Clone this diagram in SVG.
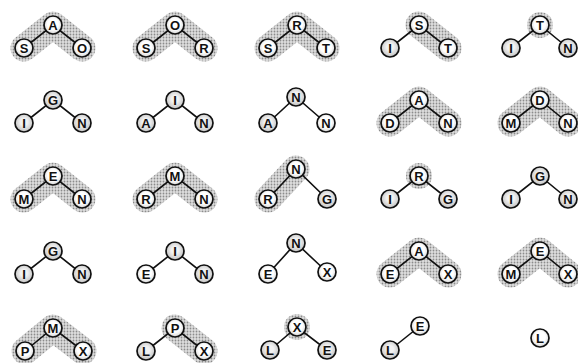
<svg xmlns="http://www.w3.org/2000/svg" width="578" height="363" viewBox="0 0 578 363">
<defs>
<pattern id="dots" width="3" height="3" patternUnits="userSpaceOnUse">
<rect width="3" height="3" fill="#dedede"/>
<circle cx="1.5" cy="1.5" r="0.9" fill="#8c8c8c"/>
</pattern>
<radialGradient id="gw" cx="50%" cy="45%" r="55%">
<stop offset="0.55" stop-color="#ffffff"/>
<stop offset="1" stop-color="#d4d4d4"/>
</radialGradient>
<radialGradient id="gg" cx="50%" cy="45%" r="55%">
<stop offset="0.35" stop-color="#f2f2f2"/>
<stop offset="1" stop-color="#c2c2c2"/>
</radialGradient>
</defs>
<style>
.band{fill:none;stroke:url(#dots);stroke-width:27;stroke-linecap:round;stroke-linejoin:round}
.halo{fill:url(#dots)}
.edge{stroke:#111;stroke-width:1.6;fill:none}
.node circle{stroke:#111;stroke-width:1.7}
.w circle{fill:url(#gw)}
.g circle{fill:url(#gg)}
.node text{font-family:"Liberation Sans",Arial,sans-serif;font-weight:bold;font-size:13px;text-anchor:middle;fill:#111}
</style>
<rect width="578" height="363" fill="#ffffff"/>
<g id="highlights">
<polyline class="band" points="24,48 53,25 82,48"/>
<polyline class="band" points="146,48 175,25 204,48"/>
<polyline class="band" points="268,48 297,25 326,48"/>
<polyline class="band" points="419,25 448,48"/>
<circle class="halo" cx="540" cy="25" r="13"/>
<polyline class="band" points="390,123 419,100 448,123"/>
<polyline class="band" points="511,123 540,100 568,123"/>
<polyline class="band" points="24,199 53,176 82,199"/>
<polyline class="band" points="146,199 175,176 204,199"/>
<polyline class="band" points="268,199 296,169"/>
<circle class="halo" cx="419" cy="176" r="13"/>
<polyline class="band" points="390,274 419,251 448,274"/>
<polyline class="band" points="511,274 540,251 568,274"/>
<polyline class="band" points="25,351 53,328 83,351"/>
<polyline class="band" points="175,328 204,351"/>
<circle class="halo" cx="297" cy="327" r="13"/>
</g>
<g id="connectors">
<polyline class="edge" points="24,48 53,25 82,48"/>
<polyline class="edge" points="146,48 175,25 204,48"/>
<polyline class="edge" points="268,48 297,25 326,48"/>
<polyline class="edge" points="390,48 419,25 448,48"/>
<polyline class="edge" points="511,48 540,25 568,48"/>
<polyline class="edge" points="24,123 53,100 82,123"/>
<polyline class="edge" points="146,123 175,100 204,123"/>
<polyline class="edge" points="268,123 296,97 326,123"/>
<polyline class="edge" points="390,123 419,100 448,123"/>
<polyline class="edge" points="511,123 540,100 568,123"/>
<polyline class="edge" points="24,199 53,176 82,199"/>
<polyline class="edge" points="146,199 175,176 204,199"/>
<polyline class="edge" points="268,199 296,169 327,199"/>
<polyline class="edge" points="390,199 419,176 448,199"/>
<polyline class="edge" points="511,199 540,176 568,199"/>
<polyline class="edge" points="24,274 53,251 82,274"/>
<polyline class="edge" points="146,274 175,251 204,274"/>
<polyline class="edge" points="268,274 296,243 327,272"/>
<polyline class="edge" points="390,274 419,251 448,274"/>
<polyline class="edge" points="511,274 540,251 568,274"/>
<polyline class="edge" points="25,351 53,328 83,351"/>
<polyline class="edge" points="146,351 175,328 204,351"/>
<polyline class="edge" points="270,350 297,327 327,350"/>
<polyline class="edge" points="390,350 420,326"/>
</g>
<g id="t00l" class="node w"><circle cx="24" cy="48" r="9"/><text x="24" y="52.7">S</text></g>
<g id="t00r" class="node w"><circle cx="53" cy="25" r="9"/><text x="53" y="29.7">A</text></g>
<g id="t00d" class="node w"><circle cx="82" cy="48" r="9"/><text x="82" y="52.7">O</text></g>
<g id="t01l" class="node w"><circle cx="146" cy="48" r="9"/><text x="146" y="52.7">S</text></g>
<g id="t01r" class="node w"><circle cx="175" cy="25" r="9"/><text x="175" y="29.7">O</text></g>
<g id="t01d" class="node w"><circle cx="204" cy="48" r="9"/><text x="204" y="52.7">R</text></g>
<g id="t02l" class="node w"><circle cx="268" cy="48" r="9"/><text x="268" y="52.7">S</text></g>
<g id="t02r" class="node w"><circle cx="297" cy="25" r="9"/><text x="297" y="29.7">R</text></g>
<g id="t02d" class="node w"><circle cx="326" cy="48" r="9"/><text x="326" y="52.7">T</text></g>
<g id="t03l" class="node g"><circle cx="390" cy="48" r="9"/><text x="390" y="52.7">I</text></g>
<g id="t03r" class="node w"><circle cx="419" cy="25" r="9"/><text x="419" y="29.7">S</text></g>
<g id="t03d" class="node w"><circle cx="448" cy="48" r="9"/><text x="448" y="52.7">T</text></g>
<g id="t04l" class="node g"><circle cx="511" cy="48" r="9"/><text x="511" y="52.7">I</text></g>
<g id="t04r" class="node w"><circle cx="540" cy="25" r="9"/><text x="540" y="29.7">T</text></g>
<g id="t04d" class="node g"><circle cx="568" cy="48" r="9"/><text x="568" y="52.7">N</text></g>
<g id="t10l" class="node g"><circle cx="24" cy="123" r="9"/><text x="24" y="127.7">I</text></g>
<g id="t10r" class="node g"><circle cx="53" cy="100" r="9"/><text x="53" y="104.7">G</text></g>
<g id="t10d" class="node g"><circle cx="82" cy="123" r="9"/><text x="82" y="127.7">N</text></g>
<g id="t11l" class="node g"><circle cx="146" cy="123" r="9"/><text x="146" y="127.7">A</text></g>
<g id="t11r" class="node g"><circle cx="175" cy="100" r="9"/><text x="175" y="104.7">I</text></g>
<g id="t11d" class="node g"><circle cx="204" cy="123" r="9"/><text x="204" y="127.7">N</text></g>
<g id="t12l" class="node g"><circle cx="268" cy="123" r="9"/><text x="268" y="127.7">A</text></g>
<g id="t12r" class="node g"><circle cx="296" cy="97" r="9"/><text x="296" y="101.7">N</text></g>
<g id="t12d" class="node w"><circle cx="326" cy="123" r="9"/><text x="326" y="127.7">N</text></g>
<g id="t13l" class="node w"><circle cx="390" cy="123" r="9"/><text x="390" y="127.7">D</text></g>
<g id="t13r" class="node w"><circle cx="419" cy="100" r="9"/><text x="419" y="104.7">A</text></g>
<g id="t13d" class="node w"><circle cx="448" cy="123" r="9"/><text x="448" y="127.7">N</text></g>
<g id="t14l" class="node w"><circle cx="511" cy="123" r="9"/><text x="511" y="127.7">M</text></g>
<g id="t14r" class="node w"><circle cx="540" cy="100" r="9"/><text x="540" y="104.7">D</text></g>
<g id="t14d" class="node w"><circle cx="568" cy="123" r="9"/><text x="568" y="127.7">N</text></g>
<g id="t20l" class="node w"><circle cx="24" cy="199" r="9"/><text x="24" y="203.7">M</text></g>
<g id="t20r" class="node w"><circle cx="53" cy="176" r="9"/><text x="53" y="180.7">E</text></g>
<g id="t20d" class="node w"><circle cx="82" cy="199" r="9"/><text x="82" y="203.7">N</text></g>
<g id="t21l" class="node w"><circle cx="146" cy="199" r="9"/><text x="146" y="203.7">R</text></g>
<g id="t21r" class="node w"><circle cx="175" cy="176" r="9"/><text x="175" y="180.7">M</text></g>
<g id="t21d" class="node w"><circle cx="204" cy="199" r="9"/><text x="204" y="203.7">N</text></g>
<g id="t22l" class="node w"><circle cx="268" cy="199" r="9"/><text x="268" y="203.7">R</text></g>
<g id="t22r" class="node w"><circle cx="296" cy="169" r="9"/><text x="296" y="173.7">N</text></g>
<g id="t22d" class="node g"><circle cx="327" cy="199" r="9"/><text x="327" y="203.7">G</text></g>
<g id="t23l" class="node g"><circle cx="390" cy="199" r="9"/><text x="390" y="203.7">I</text></g>
<g id="t23r" class="node w"><circle cx="419" cy="176" r="9"/><text x="419" y="180.7">R</text></g>
<g id="t23d" class="node g"><circle cx="448" cy="199" r="9"/><text x="448" y="203.7">G</text></g>
<g id="t24l" class="node g"><circle cx="511" cy="199" r="9"/><text x="511" y="203.7">I</text></g>
<g id="t24r" class="node g"><circle cx="540" cy="176" r="9"/><text x="540" y="180.7">G</text></g>
<g id="t24d" class="node g"><circle cx="568" cy="199" r="9"/><text x="568" y="203.7">N</text></g>
<g id="t30l" class="node g"><circle cx="24" cy="274" r="9"/><text x="24" y="278.7">I</text></g>
<g id="t30r" class="node g"><circle cx="53" cy="251" r="9"/><text x="53" y="255.7">G</text></g>
<g id="t30d" class="node g"><circle cx="82" cy="274" r="9"/><text x="82" y="278.7">N</text></g>
<g id="t31l" class="node w"><circle cx="146" cy="274" r="9"/><text x="146" y="278.7">E</text></g>
<g id="t31r" class="node g"><circle cx="175" cy="251" r="9"/><text x="175" y="255.7">I</text></g>
<g id="t31d" class="node g"><circle cx="204" cy="274" r="9"/><text x="204" y="278.7">N</text></g>
<g id="t32l" class="node w"><circle cx="268" cy="274" r="9"/><text x="268" y="278.7">E</text></g>
<g id="t32r" class="node g"><circle cx="296" cy="243" r="9"/><text x="296" y="247.7">N</text></g>
<g id="t32d" class="node w"><circle cx="327" cy="272" r="9"/><text x="327" y="276.7">X</text></g>
<g id="t33l" class="node w"><circle cx="390" cy="274" r="9"/><text x="390" y="278.7">E</text></g>
<g id="t33r" class="node w"><circle cx="419" cy="251" r="9"/><text x="419" y="255.7">A</text></g>
<g id="t33d" class="node w"><circle cx="448" cy="274" r="9"/><text x="448" y="278.7">X</text></g>
<g id="t34l" class="node w"><circle cx="511" cy="274" r="9"/><text x="511" y="278.7">M</text></g>
<g id="t34r" class="node w"><circle cx="540" cy="251" r="9"/><text x="540" y="255.7">E</text></g>
<g id="t34d" class="node w"><circle cx="568" cy="274" r="9"/><text x="568" y="278.7">X</text></g>
<g id="t40l" class="node w"><circle cx="25" cy="351" r="9"/><text x="25" y="355.7">P</text></g>
<g id="t40r" class="node w"><circle cx="53" cy="328" r="9"/><text x="53" y="332.7">M</text></g>
<g id="t40d" class="node w"><circle cx="83" cy="351" r="9"/><text x="83" y="355.7">X</text></g>
<g id="t41l" class="node g"><circle cx="146" cy="351" r="9"/><text x="146" y="355.7">L</text></g>
<g id="t41r" class="node w"><circle cx="175" cy="328" r="9"/><text x="175" y="332.7">P</text></g>
<g id="t41d" class="node w"><circle cx="204" cy="351" r="9"/><text x="204" y="355.7">X</text></g>
<g id="t42l" class="node g"><circle cx="270" cy="350" r="9"/><text x="270" y="354.7">L</text></g>
<g id="t42r" class="node w"><circle cx="297" cy="327" r="9"/><text x="297" y="331.7">X</text></g>
<g id="t42d" class="node g"><circle cx="327" cy="350" r="9"/><text x="327" y="354.7">E</text></g>
<g id="t43l" class="node g"><circle cx="390" cy="350" r="9"/><text x="390" y="354.7">L</text></g>
<g id="t43r" class="node w"><circle cx="420" cy="326" r="9"/><text x="420" y="330.7">E</text></g>
<g id="t44" class="node w"><circle cx="540" cy="338" r="9"/><text x="540" y="342.7">L</text></g>
</svg>
